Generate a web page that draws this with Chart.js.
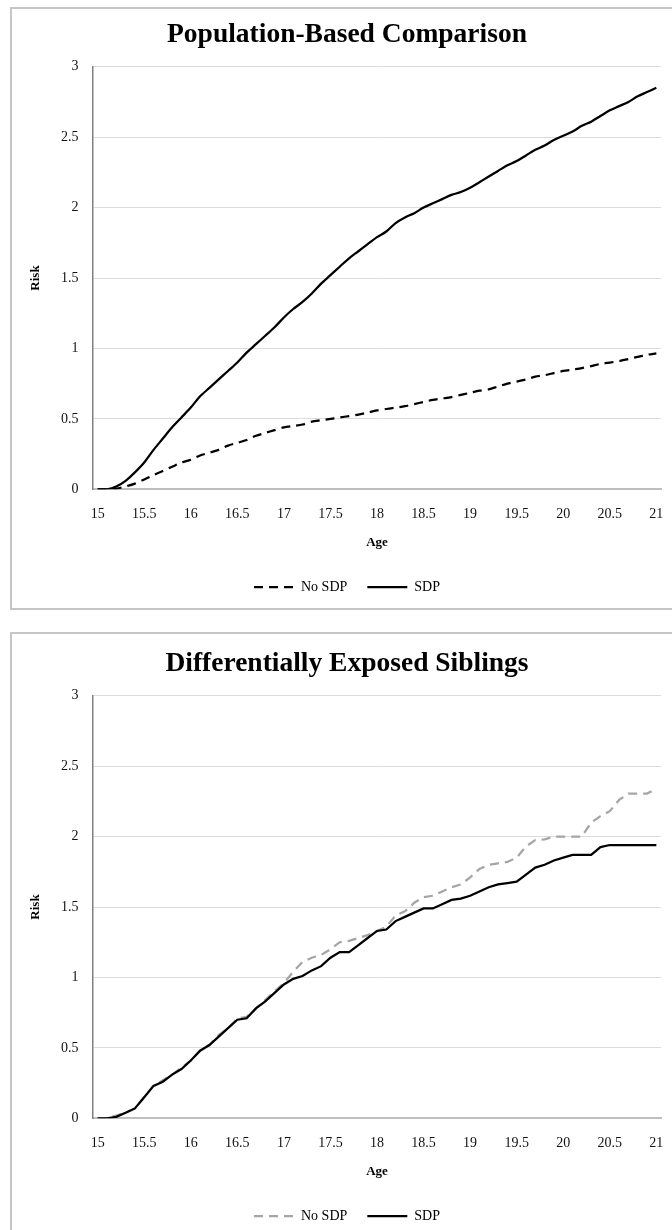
<!DOCTYPE html>
<html>
<head>
<meta charset="utf-8">
<script src="https://cdn.jsdelivr.net/npm/chart.js@4.4.1/dist/chart.umd.min.js"></script>
<style>
  html, body { margin: 0; padding: 0; background: #fff; overflow: hidden; }
  body { width: 672px; height: 1230px; position: relative; }
  .panel { position: absolute; left: 10px; width: 720px; box-sizing: border-box; border: 2px solid #c6c6c6; }
  .chart-box { position: absolute; left: 10px; width: 674px; height: 596px; }
</style>
</head>
<body>
<div class="panel" style="top:7px; height:603px"></div>
<div class="chart-box" style="top:8px"><canvas id="popChart"></canvas></div>
<div class="panel" style="top:632px; height:700px"></div>
<div class="chart-box" style="top:637.3px"><canvas id="sibChart"></canvas></div>
<script>
// ages, one category every 0.1 year
const ages = [
  "15", "15.1", "15.2", "15.3", "15.4", "15.5", "15.6", "15.7", "15.8", "15.9",
  "16", "16.1", "16.2", "16.3", "16.4", "16.5", "16.6", "16.7", "16.8", "16.9",
  "17", "17.1", "17.2", "17.3", "17.4", "17.5", "17.6", "17.7", "17.8", "17.9",
  "18", "18.1", "18.2", "18.3", "18.4", "18.5", "18.6", "18.7", "18.8", "18.9",
  "19", "19.1", "19.2", "19.3", "19.4", "19.5", "19.6", "19.7", "19.8", "19.9",
  "20", "20.1", "20.2", "20.3", "20.4", "20.5", "20.6", "20.7", "20.8", "20.9",
  "21"
];
const ageTicks = ["15", "15.5", "16", "16.5", "17", "17.5", "18", "18.5", "19", "19.5", "20", "20.5", "21"];

// Population-based comparison
const popNoSdp = [
  0, 0, 0.005, 0.02, 0.04, 0.07, 0.10, 0.13, 0.16, 0.19,
  0.21, 0.24, 0.26, 0.28, 0.31, 0.33, 0.35, 0.38, 0.40, 0.42,
  0.44, 0.45, 0.46, 0.48, 0.49, 0.50, 0.51, 0.52, 0.53, 0.545,
  0.56, 0.57, 0.58, 0.59, 0.605, 0.62, 0.635, 0.645, 0.655, 0.67,
  0.685, 0.70, 0.71, 0.73, 0.75, 0.765, 0.78, 0.80, 0.81, 0.825,
  0.84, 0.85, 0.86, 0.875, 0.89, 0.90, 0.91, 0.925, 0.94, 0.955,
  0.965
];
const popSdp = [
  0, 0, 0.02, 0.06, 0.12, 0.19, 0.28, 0.36, 0.44, 0.51,
  0.58, 0.66, 0.72, 0.78, 0.84, 0.90, 0.97, 1.03, 1.09, 1.15,
  1.22, 1.28, 1.33, 1.39, 1.46, 1.52, 1.58, 1.64, 1.69, 1.74,
  1.79, 1.83, 1.89, 1.93, 1.96, 2.00, 2.03, 2.06, 2.09, 2.11,
  2.14, 2.18, 2.22, 2.26, 2.30, 2.33, 2.37, 2.41, 2.44, 2.48,
  2.51, 2.54, 2.58, 2.61, 2.65, 2.69, 2.72, 2.75, 2.79, 2.82,
  2.85
];

// Differentially exposed siblings
const sibNoSdp = [
  0, 0, 0.02, 0.04, 0.07, 0.15, 0.23, 0.27, 0.31, 0.36,
  0.41, 0.48, 0.52, 0.59, 0.64, 0.71, 0.72, 0.78, 0.84, 0.90,
  0.96, 1.04, 1.11, 1.14, 1.16, 1.20, 1.25, 1.26, 1.28, 1.30,
  1.33, 1.36, 1.44, 1.47, 1.53, 1.57, 1.58, 1.61, 1.64, 1.66,
  1.71, 1.77, 1.80, 1.81, 1.82, 1.85, 1.93, 1.975, 1.98, 2.00,
  2.00, 2.00, 2.00, 2.10, 2.145, 2.18, 2.26, 2.305, 2.305, 2.305,
  2.34
];
const sibSdp = [
  0, 0, 0.01, 0.04, 0.07, 0.15, 0.23, 0.26, 0.31, 0.35,
  0.41, 0.48, 0.52, 0.58, 0.64, 0.70, 0.71, 0.78, 0.83, 0.89,
  0.95, 0.99, 1.01, 1.05, 1.08, 1.14, 1.18, 1.18, 1.23, 1.28,
  1.33, 1.34, 1.40, 1.43, 1.46, 1.49, 1.49, 1.52, 1.55, 1.56,
  1.58, 1.61, 1.64, 1.66, 1.67, 1.68, 1.73, 1.78, 1.80, 1.83,
  1.85, 1.87, 1.87, 1.87, 1.925, 1.94, 1.94, 1.94, 1.94, 1.94,
  1.94
];

const serif = "'Liberation Serif', 'Times New Roman', serif";

// legend entries drawn as line samples that keep the dataset's dash
function lineLegendLabels(chart) {
  const items = Chart.defaults.plugins.legend.labels.generateLabels(chart);
  items.forEach((item) => {
    const ds = chart.data.datasets[item.datasetIndex];
    item.lineDash = ds.borderDash || [];
    item.lineWidth = ds.borderWidth;
    item.strokeStyle = ds.borderColor;
  });
  return items.sort((a, b) => a.datasetIndex - b.datasetIndex);
}

function buildChart(canvasId, titleText, noSdp, sdp, noSdpColor, tension) {
  return new Chart(document.getElementById(canvasId), {
    type: "line",
    data: {
      labels: ages,
      datasets: [
        {
          label: "No SDP",
          data: noSdp,
          borderColor: noSdpColor,
          backgroundColor: noSdpColor,
          borderWidth: 2.25,
          borderDash: [9, 6],
          pointRadius: 0,
          tension: tension,
          order: 1
        },
        {
          label: "SDP",
          data: sdp,
          borderColor: "#000",
          backgroundColor: "#000",
          borderWidth: 2.25,
          pointRadius: 0,
          tension: tension,
          order: 0
        }
      ]
    },
    options: {
      responsive: true,
      maintainAspectRatio: false,
      animation: false,
      layout: { padding: 0 },
      plugins: {
        title: {
          display: true,
          text: titleText,
          color: "#000",
          font: { family: serif, size: 27.5, weight: "bold" },
          padding: { top: 10.5, bottom: 15.2 }
        },
        legend: {
          position: "bottom",
          labels: {
            usePointStyle: true,
            pointStyle: "line",
            pointStyleWidth: 40,
            boxHeight: 14,
            padding: 20,
            color: "#000",
            font: { family: serif, size: 14 },
            generateLabels: lineLegendLabels
          }
        },
        tooltip: { enabled: false }
      },
      scales: {
        x: {
          type: "category",
          offset: true,
          grid: { display: false, drawTicks: false },
          border: { color: "#bfbfbf", width: 2 },
          ticks: {
            autoSkip: false,
            maxRotation: 0,
            padding: 16.3,
            color: "#111",
            font: { family: serif, size: 14 },
            callback: (value, index) => (index % 5 === 0 ? ageTicks[index / 5] : "")
          },
          title: {
            display: true,
            text: "Age",
            color: "#000",
            font: { family: serif, size: 13, weight: "bold" },
            padding: { top: 0, bottom: 9.2 }
          },
          afterFit: (scale) => { scale.height = 70.7; }
        },
        y: {
          min: 0,
          max: 3,
          ticks: {
            stepSize: 0.5,
            padding: 14.5,
            color: "#111",
            font: { family: serif, size: 14 },
            callback: (value) => String(value)
          },
          grid: { color: "#dcdcdc", lineWidth: 1, drawTicks: false },
          border: { color: "#808080", width: 1.5 },
          title: {
            display: true,
            text: "Risk",
            color: "#000",
            font: { family: serif, size: 13, weight: "bold" },
            padding: { top: 18.2, bottom: 0 }
          },
          afterFit: (scale) => { scale.width = 83; }
        },
        // empty right-hand spacer so title and legend centre on the full frame
        spacer: {
          type: "linear",
          position: "right",
          grid: { display: false },
          border: { display: false },
          ticks: { display: false },
          afterFit: (scale) => { scale.width = 23; }
        }
      }
    }
  });
}

buildChart("popChart", "Population-Based Comparison", popNoSdp, popSdp, "#000", 0.3);
buildChart("sibChart", "Differentially Exposed Siblings", sibNoSdp, sibSdp, "#a5a5a5", 0);
</script>
</body>
</html>
